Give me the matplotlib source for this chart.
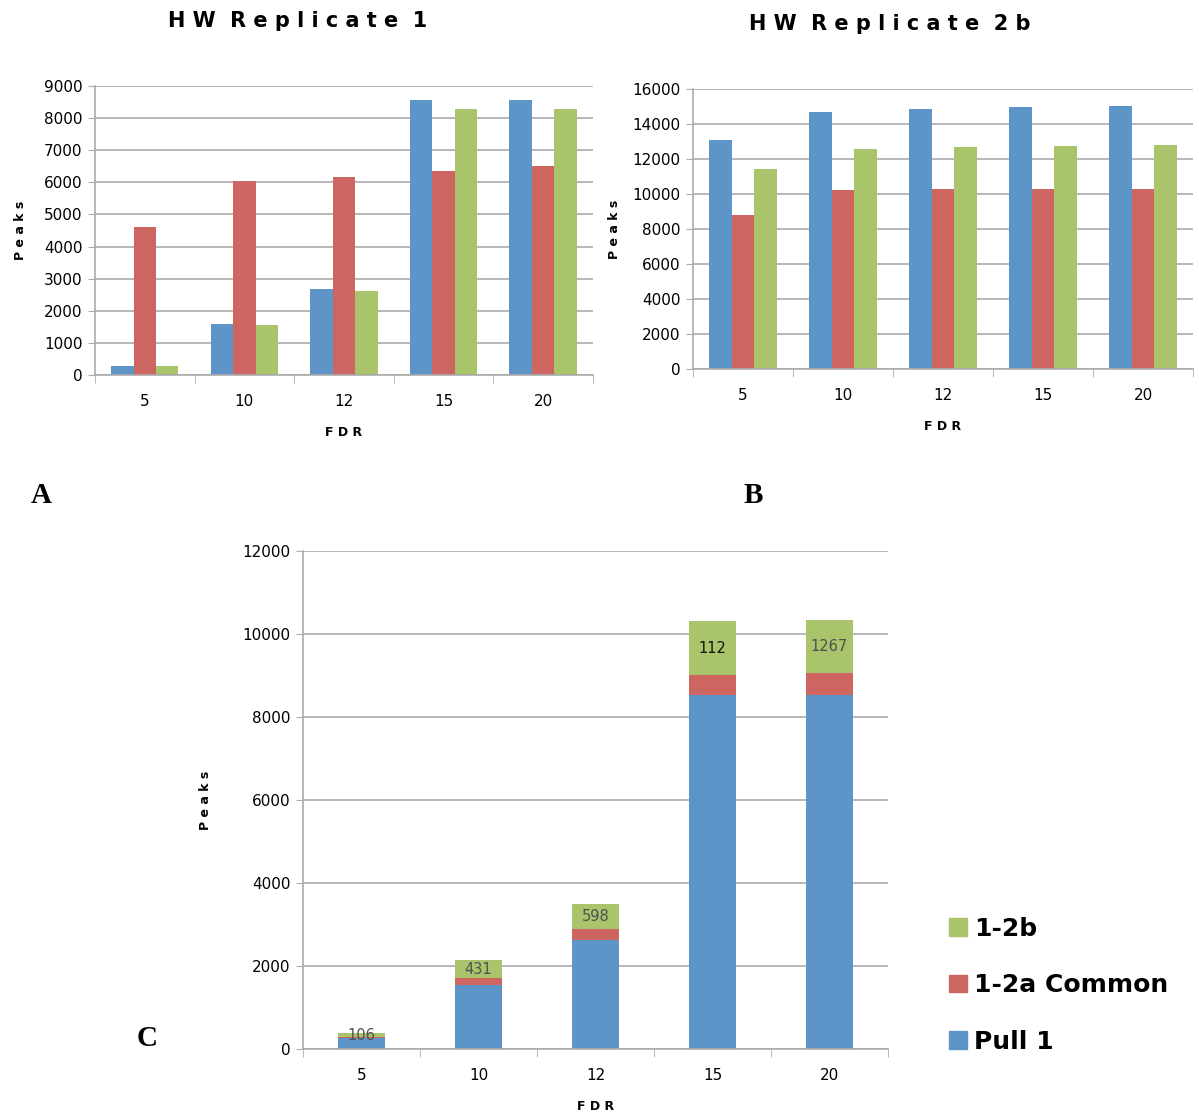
import numpy as np
import matplotlib
matplotlib.use('Agg')
import matplotlib.pyplot as plt
from matplotlib.patches import Patch

# FDR categories shared by all three panels
fdr = ['5', '10', '12', '15', '20']

# panel A: HW Replicate 1
rep1_blue = [290, 1590, 2680, 8570, 8570]
rep1_red = [4610, 6040, 6170, 6350, 6510]
rep1_green = [290, 1560, 2620, 8290, 8290]

# panel B: HW Replicate 2b
rep2_blue = [13090, 14690, 14860, 14970, 15030]
rep2_red = [8800, 10230, 10290, 10290, 10290]
rep2_green = [11430, 12570, 12690, 12740, 12800]

# panel C: stacked overlap
pull1 = [265, 1540, 2630, 8530, 8530]
common = [15, 170, 265, 480, 530]
only_2b = [106, 431, 598, 1300, 1267]
seg_labels = ['106', '431', '598', '112', '1267']

legend_names = ['1-2b', '1-2a Common', 'Pull 1']

BLUE = '#5E95C8'
RED = '#CD6660'
GREEN = '#A9C46A'
GRID = '#ABABAB'


def excel_axes(ax, ymax, ystep):
    n = len(fdr)
    x = np.arange(n)
    ax.set_xlim(-0.5, n - 0.5)
    ax.set_ylim(0, ymax)
    ax.set_yticks(np.arange(0, ymax + 1, ystep))
    ax.set_xticks(x)
    ax.set_xticklabels(fdr)
    ax.set_xticks(np.arange(-0.5, n, 1.0), minor=True)
    ax.tick_params(axis='x', which='major', length=0, pad=14, labelsize=11)
    ax.tick_params(axis='x', which='minor', length=6, color=GRID, direction='out')
    ax.tick_params(axis='y', length=5, color=GRID, labelsize=11, pad=4)
    ax.yaxis.grid(True, color=GRID, linewidth=1.2)
    ax.set_axisbelow(True)
    for s in ['top', 'right']:
        ax.spines[s].set_visible(False)
    for s in ['left', 'bottom']:
        ax.spines[s].set_color(GRID)
        ax.spines[s].set_linewidth(1.2)
    return x


fig = plt.figure(figsize=(11.99, 11.13), dpi=100)

# ---- panel A
axA = fig.add_axes([0.0792, 0.6631, 0.4153, 0.2597])
x = excel_axes(axA, 9000, 1000)
w = 0.225
axA.bar(x - w, rep1_blue, w, color=BLUE)
axA.bar(x, rep1_red, w, color=RED)
axA.bar(x + w, rep1_green, w, color=GREEN)
axA.set_xlabel('F D R', fontsize=9, fontweight='bold', labelpad=12)
axA.set_ylabel('P e a k s', fontsize=9, fontweight='bold', labelpad=12)
fig.text(0.248, 0.981, 'H W  R e p l i c a t e  1', ha='center', va='center',
         fontsize=15, fontweight='bold')

# ---- panel B
axB = fig.add_axes([0.578, 0.6685, 0.417, 0.2516])
x = excel_axes(axB, 16000, 2000)
axB.bar(x - w, rep2_blue, w, color=BLUE)
axB.bar(x, rep2_red, w, color=RED)
axB.bar(x + w, rep2_green, w, color=GREEN)
axB.set_xlabel('F D R', fontsize=9, fontweight='bold', labelpad=12)
axB.set_ylabel('P e a k s', fontsize=9, fontweight='bold', labelpad=8)
fig.text(0.742, 0.978, 'H W  R e p l i c a t e  2 b', ha='center', va='center',
         fontsize=15, fontweight='bold')

# ---- panel C
axC = fig.add_axes([0.2527, 0.0575, 0.4879, 0.4474])
x = excel_axes(axC, 12000, 2000)
bw = 0.4
axC.bar(x, pull1, bw, color=BLUE)
axC.bar(x, common, bw, bottom=pull1, color=RED)
base = np.array(pull1) + np.array(common)
axC.bar(x, only_2b, bw, bottom=base, color=GREEN)
for i, lab in enumerate(seg_labels):
    col = '#111111' if lab == '112' else '#505050'
    axC.text(x[i], base[i] + only_2b[i] / 2, lab, ha='center', va='center',
             fontsize=10.5, color=col)
axC.set_xlabel('F D R', fontsize=9, fontweight='bold', labelpad=12)
axC.set_ylabel('P e a k s', fontsize=9, fontweight='bold', labelpad=22)

handles = [Patch(color=GREEN), Patch(color=RED), Patch(color=BLUE)]
fig.legend(handles, legend_names, loc='lower left', bbox_to_anchor=(0.773, 0.033),
           frameon=False, prop={'size': 18, 'weight': 'bold'},
           handlelength=0.7, handleheight=0.7, handletextpad=0.3, labelspacing=1.3)

# panel letters
for lab, px, py in [('A', 0.034, 0.555), ('B', 0.628, 0.555), ('C', 0.123, 0.067)]:
    fig.text(px, py, lab, fontsize=21, fontweight='bold', family='Liberation Serif',
             ha='center', va='center')

fig.savefig('out.png', dpi=100)
